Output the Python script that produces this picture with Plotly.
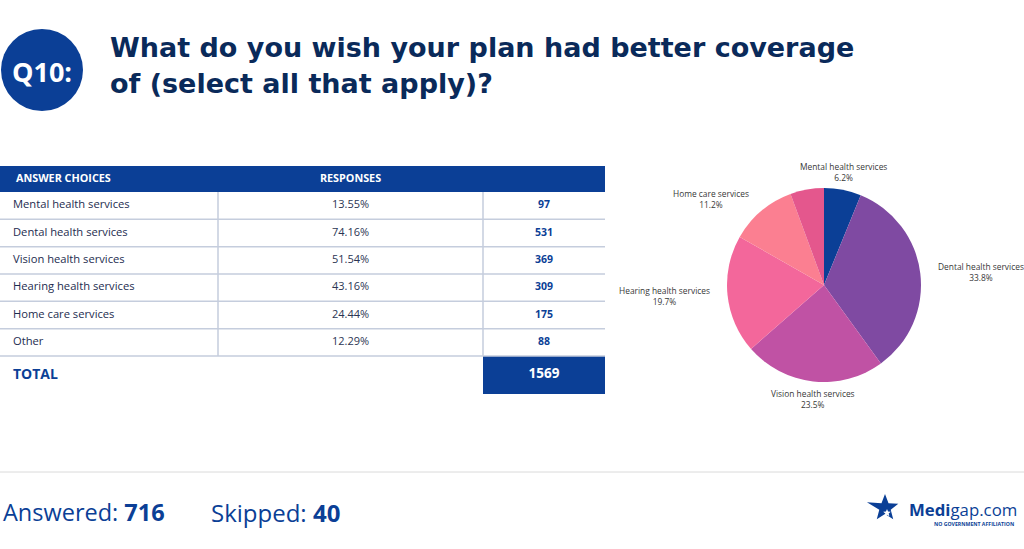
import math
import plotly.graph_objects as go

# ---- data ----
choices = ["Mental health services", "Dental health services", "Vision health services",
           "Hearing health services", "Home care services", "Other"]
percents = ["13.55%", "74.16%", "51.54%", "43.16%", "24.44%", "12.29%"]
counts = [97, 531, 369, 309, 175, 88]
total = 1569
answered = 716
skipped = 40
pie_label_show = [True, True, True, True, True, False]

header_labels = ["ANSWER CHOICES", "RESPONSES"]
total_label = "TOTAL"
title_lines = ["What do you wish your plan had better coverage", "of (select all that apply)?"]
q_label = "Q10:"

NAVY = "#0a2a5a"
BLUE = "#0b3f96"
LINE = "#c5cddd"
pie_colors = ["#0b3f96", "#7f4aa2", "#c052a4", "#f3679b", "#fb7f91", "#e4578d"]

W, H = 1024, 549
def px(x): return x / W
def py(y): return 1 - y / H

FONT = "Open Sans"
TFONT = "DejaVu Sans"

fig = go.Figure()

# ---------- table (drawn on a hidden pixel-unit axis) ----------
TX0, TX1 = 0, 605
TY0, TY1 = 166, 394
HEAD_B = 192
ROW_H = (356 - HEAD_B) / len(choices)
COL1, COL2 = 218, 483
row_y = [HEAD_B + ROW_H * (i + 0.5) for i in range(len(choices))]
rows_bottom = HEAD_B + ROW_H * len(choices)
total_y = (rows_bottom + TY1) / 2

fig.update_layout(
    xaxis=dict(domain=[px(TX0), px(TX1)], range=[TX0, TX1], visible=False, fixedrange=True),
    yaxis=dict(domain=[py(TY1), py(TY0)], range=[TY1, TY0], visible=False, fixedrange=True),
)

shapes = []
shapes.append(dict(type="rect", xref="x", yref="y", x0=TX0, x1=TX1, y0=TY0, y1=HEAD_B,
                   fillcolor=BLUE, line=dict(width=0), layer="below"))
for i in range(1, len(choices) + 1):
    yy = HEAD_B + ROW_H * i
    shapes.append(dict(type="line", xref="x", yref="y", x0=TX0, x1=TX1, y0=yy, y1=yy,
                       line=dict(color=LINE, width=1.5)))
for xx in (COL1, COL2):
    shapes.append(dict(type="line", xref="x", yref="y", x0=xx, x1=xx, y0=HEAD_B, y1=rows_bottom,
                       line=dict(color=LINE, width=1.5)))
shapes.append(dict(type="rect", xref="x", yref="y", x0=COL2, x1=TX1, y0=rows_bottom, y1=TY1,
                   fillcolor=BLUE, line=dict(width=0), layer="below"))

head_y = (TY0 + HEAD_B) / 2
c2 = (COL1 + COL2) / 2
c3 = (COL2 + TX1) / 2

def text_trace(xs, ys, texts, pos, size, color):
    return go.Scatter(x=xs, y=ys, text=texts, mode="text", textposition=pos,
                      textfont=dict(size=size, color=color, family=FONT),
                      hoverinfo="skip", showlegend=False, cliponaxis=False)

fig.add_trace(text_trace([16], [head_y], ["<b>%s</b>" % header_labels[0]], "middle right", 10.8, "white"))
fig.add_trace(text_trace([c2], [head_y], ["<b>%s</b>" % header_labels[1]], "middle center", 10.8, "white"))
fig.add_trace(text_trace([13] * len(choices), row_y, choices, "middle right", 11.2, "#1d2c4f"))
fig.add_trace(text_trace([c2] * len(choices), row_y, percents, "middle center", 11, "#2b3553"))
fig.add_trace(text_trace([c3] * len(choices), row_y, ["<b>%d</b>" % c for c in counts],
                         "middle center", 10.5, BLUE))
fig.add_trace(text_trace([13], [total_y], ["<b>%s</b>" % total_label], "middle right", 14, BLUE))
fig.add_trace(text_trace([c3], [total_y], ["<b>%d</b>" % total], "middle center", 13.5, "white"))

# ---------- pie ----------
PCX, PCY, PR = 824, 285, 97
fig.add_trace(go.Pie(
    labels=choices, values=counts,
    sort=False, direction="clockwise", rotation=0,
    marker=dict(colors=pie_colors, line=dict(width=0)),
    textinfo="none",
    domain=dict(x=[px(PCX - PR), px(PCX + PR)], y=[py(PCY + PR), py(PCY - PR)]),
    showlegend=False, hoverinfo="skip",
))

annotations = []
cum = 0.0
for lab, cnt, show in zip(choices, counts, pie_label_show):
    f = cnt / total
    mid = (cum + f / 2) * 2 * math.pi
    cum += f
    if not show:
        continue
    s, c = math.sin(mid), math.cos(mid)
    side = abs(s) > 0.5
    gap = 16 if side else 5
    R = PR + gap
    xa = "left" if s > 0.5 else ("right" if s < -0.5 else "center")
    ya = "bottom" if c > 0.9 else ("top" if c < -0.9 else "middle")
    annotations.append(dict(
        text="%s<br>%.1f%%" % (lab, 100 * f),
        x=px(PCX + s * R), y=py(PCY - c * R), xref="paper", yref="paper",
        xanchor=xa, yanchor=ya, showarrow=False, align="center",
        font=dict(size=8.4, color="#383838", family=FONT)))

# ---------- header, footer, logo ----------
shapes += [
    dict(type="circle", xref="paper", yref="paper",
         x0=px(1), x1=px(83), y0=py(111), y1=py(29),
         fillcolor=BLUE, line=dict(width=0)),
    dict(type="line", xref="paper", yref="paper",
         x0=0, x1=1, y0=py(472), y1=py(472),
         line=dict(color="#dadada", width=1)),
]

# star logo
cx, cy = 885, 508
pts = []
for k in range(10):
    ang = math.pi * k / 5
    rr = 14 if k % 2 == 0 else 6
    if k == 8:
        rr = 19
    pts.append((cx + rr * math.sin(ang), cy - rr * math.cos(ang)))
path = "M " + " L ".join("%f %f" % (px(a), py(b)) for a, b in pts) + " Z"
shapes.append(dict(type="path", xref="paper", yref="paper", path=path,
                   fillcolor=BLUE, line=dict(width=0)))
pts2 = []
for k in range(10):
    ang = math.pi * k / 5
    rr = 4 if k % 2 == 0 else 1.8
    pts2.append((cx + 2 + rr * math.sin(ang), cy + 5 - rr * math.cos(ang)))
path2 = "M " + " L ".join("%f %f" % (px(a), py(b)) for a, b in pts2) + " Z"
shapes.append(dict(type="path", xref="paper", yref="paper", path=path2,
                   fillcolor="white", line=dict(width=0)))

annotations += [
    dict(text="<b>%s</b>" % q_label, x=px(42), y=py(71), xref="paper", yref="paper",
         showarrow=False, font=dict(color="white", size=27, family=FONT),
         xanchor="center", yanchor="middle"),
    dict(text="<b>%s</b>" % title_lines[0], x=px(108), y=py(48), xref="paper", yref="paper",
         showarrow=False, font=dict(color=NAVY, size=27, family=TFONT),
         xanchor="left", yanchor="middle", align="left"),
    dict(text="<b>%s</b>" % title_lines[1], x=px(108), y=py(84), xref="paper", yref="paper",
         showarrow=False, font=dict(color=NAVY, size=27, family=TFONT),
         xanchor="left", yanchor="middle", align="left"),
    dict(text="Answered: <b>%d</b>" % answered, x=px(1), y=py(512), xref="paper", yref="paper",
         showarrow=False, font=dict(color=BLUE, size=23.5, family=FONT),
         xanchor="left", yanchor="middle"),
    dict(text="Skipped: <b>%d</b>" % skipped, x=px(209), y=py(512), xref="paper", yref="paper",
         showarrow=False, font=dict(color=BLUE, size=24, family=FONT),
         xanchor="left", yanchor="middle"),
    dict(text="<b>Medi</b>gap.com", x=px(907), y=py(509), xref="paper", yref="paper",
         showarrow=False, font=dict(color=BLUE, size=16.8, family=FONT),
         xanchor="left", yanchor="middle"),
    dict(text="<b>NO GOVERNMENT AFFILIATION</b>", x=px(1016), y=py(524), xref="paper", yref="paper",
         showarrow=False, font=dict(color=BLUE, size=5.2, family=FONT),
         xanchor="right", yanchor="middle"),
]

fig.update_layout(
    width=W, height=H,
    margin=dict(l=0, r=0, t=0, b=0),
    paper_bgcolor="white", plot_bgcolor="white",
    shapes=shapes, annotations=annotations,
    font=dict(family=FONT),
)

fig.write_html("out.html", config={"displayModeBar": False},
               post_script="document.body.style.margin='0px';")
